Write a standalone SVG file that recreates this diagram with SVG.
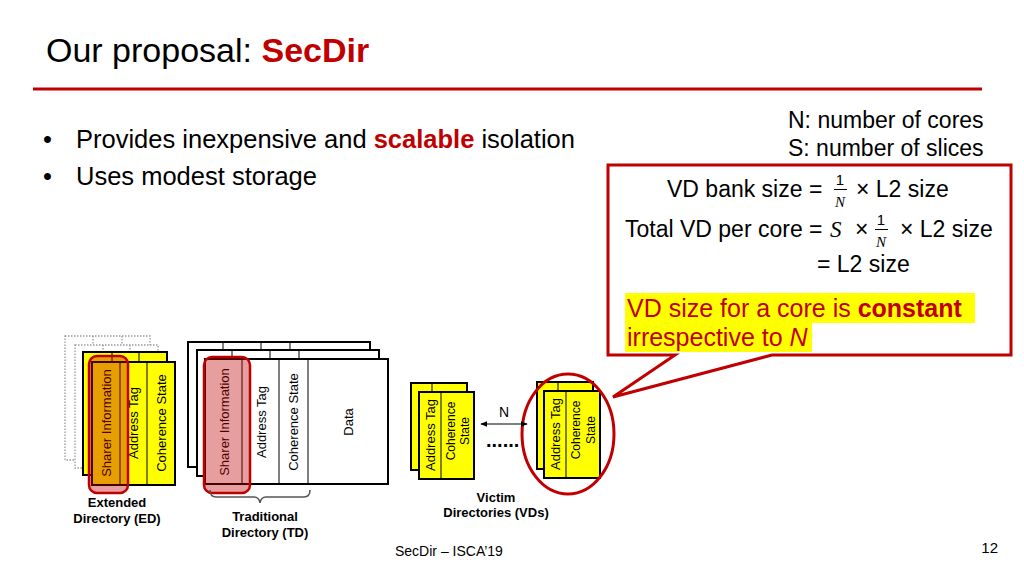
<svg xmlns="http://www.w3.org/2000/svg" width="1024" height="576" viewBox="0 0 1024 576">
<style>
text{font-family:"Liberation Sans",Arial,sans-serif;fill:#000}
.red{fill:#C00000}
.b{font-weight:bold}
.cell{fill:#FFFF00;stroke:#000;stroke-width:2}
.wcell{fill:#fff;stroke:#000;stroke-width:2}
.div{stroke:#000;stroke-width:1}
.dot{fill:#fff;stroke:#9a9a9a;stroke-width:1.3;stroke-dasharray:1.5,1.5}
.dotl{stroke:#9a9a9a;stroke-width:1.3;stroke-dasharray:1.5,1.5}
.hl{fill:#C00000;fill-opacity:0.38;stroke:#C00000;stroke-width:2.5}
.rot{font-size:13px;text-anchor:middle}
.vs{font-size:12px;text-anchor:middle}
.lab{font-size:13px;font-weight:bold;text-anchor:middle}
.math{font-family:"Liberation Serif","DejaVu Serif",serif;font-style:italic}
.eq{font-size:23px}
</style>
<defs>
<marker id="ah" viewBox="0 0 10 10" refX="9" refY="5" markerWidth="6" markerHeight="6" orient="auto-start-reverse">
<path d="M0,1 L10,5 L0,9 z" fill="#000"/>
</marker>
</defs>
<rect width="1024" height="576" fill="#fff"/>

<g id="title">
<text x="46" y="62" font-size="34">Our proposal: <tspan class="red b">SecDir</tspan></text>
<line x1="33" y1="89" x2="982" y2="89" stroke="#C00000" stroke-width="3"/>
</g>

<g id="bullets" font-size="25.5">
<text x="43" y="148" font-size="25.5">•</text>
<text x="76" y="148" font-size="25.5">Provides inexpensive and <tspan class="red b">scalable</tspan> isolation</text>
<text x="43" y="185" font-size="25.5">•</text>
<text x="76" y="185" font-size="25.5">Uses modest storage</text>
</g>

<g id="legend">
<text x="788" y="128" font-size="23">N: number of cores</text>
<text x="788" y="156" font-size="23">S: number of slices</text>
</g>

<g id="callout">
<path d="M608,165 H1011 V355 H772 L613,397 L675,355 H608 Z" fill="#fff" stroke="#C00000" stroke-width="3" stroke-linejoin="miter"/>
<text x="667" y="197" class="eq">VD bank size =</text>
<text x="840" y="185" font-size="15" text-anchor="middle" font-family="Liberation Serif,serif">1</text>
<line x1="834" y1="189.5" x2="847" y2="189.5" stroke="#000" stroke-width="1"/>
<text x="840" y="207" font-size="15" text-anchor="middle" class="math">N</text>
<text x="856" y="197" class="eq">× L2 size</text>
<text x="625" y="237" class="eq">Total VD per core =</text>
<text x="830" y="237" font-size="23" class="math">S</text>
<text x="855" y="237" class="eq">×</text>
<text x="881" y="225" font-size="15" text-anchor="middle" font-family="Liberation Serif,serif">1</text>
<line x1="875" y1="229.5" x2="888" y2="229.5" stroke="#000" stroke-width="1"/>
<text x="881" y="247" font-size="15" text-anchor="middle" class="math">N</text>
<text x="900" y="237" class="eq">× L2 size</text>
<text x="817" y="272" class="eq">= L2 size</text>
<rect x="625" y="293" width="350" height="30" fill="#FFFF00"/>
<rect x="625" y="323" width="187" height="29" fill="#FFFF00"/>
<text x="627" y="317" font-size="25" class="red">VD size for a core is <tspan class="b">constant</tspan></text>
<text x="627" y="346" font-size="25" class="red">irrespective to <tspan font-style="italic">N</tspan></text>
</g>

<g id="ed">
<rect x="65" y="336" width="85" height="124" class="dot"/>
<line x1="93" y1="336" x2="93" y2="352" class="dotl"/>
<line x1="122" y1="336" x2="122" y2="352" class="dotl"/>
<rect x="75" y="345" width="83" height="123" class="dot"/>
<line x1="103" y1="345" x2="103" y2="352" class="dotl"/>
<line x1="130" y1="345" x2="130" y2="352" class="dotl"/>
<rect x="83" y="352" width="84" height="123" class="cell"/>
<line x1="112" y1="352" x2="112" y2="362" class="div"/>
<line x1="139" y1="352" x2="139" y2="362" class="div"/>
<rect x="92" y="362" width="83" height="123" class="cell"/>
<line x1="120" y1="362" x2="120" y2="485" class="div"/>
<line x1="147" y1="362" x2="147" y2="485" class="div"/>
<text class="rot" transform="translate(110.5,423) rotate(-90)">Sharer Information</text>
<text class="rot" transform="translate(138,423) rotate(-90)">Address Tag</text>
<text class="rot" transform="translate(165.5,423) rotate(-90)">Coherence State</text>
<rect x="89" y="356" width="39" height="137" rx="8" class="hl"/>
<text class="lab" x="117" y="507">Extended</text>
<text class="lab" x="117" y="523">Directory (ED)</text>
</g>

<g id="td">
<rect x="188" y="342" width="182" height="125" class="wcell"/>
<line x1="223" y1="342" x2="223" y2="350" class="div"/>
<line x1="261" y1="342" x2="261" y2="350" class="div"/>
<line x1="290" y1="342" x2="290" y2="350" class="div"/>
<rect x="197" y="350" width="182" height="126" class="wcell"/>
<line x1="232" y1="350" x2="232" y2="359" class="div"/>
<line x1="270" y1="350" x2="270" y2="359" class="div"/>
<line x1="299" y1="350" x2="299" y2="359" class="div"/>
<rect x="205" y="359" width="183" height="125" class="wcell"/>
<line x1="242" y1="359" x2="242" y2="484" class="div"/>
<line x1="279" y1="359" x2="279" y2="484" class="div"/>
<line x1="308" y1="359" x2="308" y2="484" class="div"/>
<text class="rot" transform="translate(228.5,422) rotate(-90)">Sharer Information</text>
<text class="rot" transform="translate(265.5,422) rotate(-90)">Address Tag</text>
<text class="rot" transform="translate(298,422) rotate(-90)">Coherence State</text>
<text class="rot" transform="translate(352.5,422) rotate(-90)">Data</text>
<rect x="204" y="357" width="46" height="136" rx="8" class="hl"/>
<path d="M210,490 Q210,497 216,497 L254,497 Q259,497 260,503 Q261,497 266,497 L304,497 Q310,497 310,490" fill="none" stroke="#555" stroke-width="1.5"/>
<text class="lab" x="265" y="521">Traditional</text>
<text class="lab" x="265" y="537">Directory (TD)</text>
</g>

<g id="vd-left">
<rect x="411" y="383" width="56" height="87" class="cell"/>
<line x1="432" y1="383" x2="432" y2="392" class="div"/>
<rect x="419" y="392" width="55" height="87" class="cell"/>
<line x1="441" y1="392" x2="441" y2="479" class="div"/>
<text class="rot" transform="translate(434.5,435) rotate(-90)">Address Tag</text>
<text class="vs" transform="translate(455,431) rotate(-90)">Coherence</text>
<text class="vs" transform="translate(469,431) rotate(-90)">State</text>
</g>

<g id="vd-right">
<rect x="537" y="382" width="56" height="87" class="cell"/>
<line x1="558" y1="382" x2="558" y2="391" class="div"/>
<rect x="544" y="391" width="56" height="87" class="cell"/>
<line x1="566" y1="391" x2="566" y2="478" class="div"/>
<text class="rot" transform="translate(560,434) rotate(-90)">Address Tag</text>
<text class="vs" transform="translate(580,430) rotate(-90)">Coherence</text>
<text class="vs" transform="translate(595,430) rotate(-90)">State</text>
<ellipse cx="568" cy="434" rx="46" ry="60" fill="none" stroke="#C00000" stroke-width="3"/>
</g>

<g id="connectors">
<line x1="481" y1="424" x2="527" y2="424" stroke="#000" stroke-width="1.2" marker-start="url(#ah)" marker-end="url(#ah)"/>
<text x="504" y="417" font-size="14" text-anchor="middle">N</text>
<text x="486" y="447" font-size="20" font-weight="bold">......</text>
</g>

<g id="vd-label">
<text class="lab" x="496" y="502">Victim</text>
<text class="lab" x="496" y="517">Directories (VDs)</text>
</g>

<g id="footer">
<text x="395" y="556" font-size="14">SecDir – ISCA’19</text>
<text x="998" y="553" font-size="15" text-anchor="end">12</text>
</g>
</svg>
